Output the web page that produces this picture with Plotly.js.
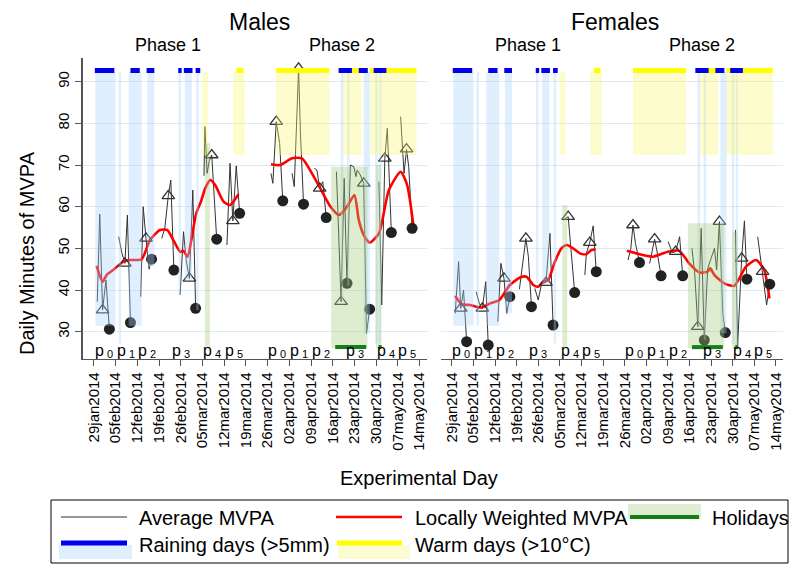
<!DOCTYPE html>
<html>
<head>
<meta charset="utf-8">
<script src="https://cdn.plot.ly/plotly-3.0.1.min.js"></script>
<style>html,body{margin:0;padding:0;background:#fff;}#chart{width:800px;height:578px;}</style>
</head>
<body>
<div id="chart"></div>
<script>
// ---------- DATA (experimental day = days since 29 Jan 2014) ----------
const tickDays = [0,7,14,21,28,35,42,49,56,63,70,77,84,91,98,105];
const tickLabels = ['29jan2014','05feb2014','12feb2014','19feb2014','26feb2014','05mar2014','12mar2014','19mar2014','26mar2014','02apr2014','09apr2014','16apr2014','23apr2014','30apr2014','07may2014','14may2014'];
const yTicks = [30,40,50,60,70,80,90];

// Periods (label "p" with subscript index)
const periodDays = [2.8, 9.9, 16.9, 27.7, 37.9, 44.8, 58.7, 65.9, 72.8, 84.0, 93.7, 100.6];
const periodIndex = ['0','1','2','3','4','5','0','1','2','3','4','5'];

// Raining days (>5mm)
const rainStart = [0.5, 8.0, 11.2, 17.2, 27.3, 29.3, 33.0, 79.6, 81.6, 87.0, 90.7, 92.0];
const rainEnd   = [7.0, 8.8, 15.4, 19.5, 28.1, 31.6, 33.8, 80.4, 82.4, 89.0, 91.5, 92.7];
const rainLowMales   = [31.4, 27.2, 31.4, 45.6, 38.8, 42.4, 35.2, 37.6, 41.0, 29.6, 27.2, 27.2];
const rainLowFemales = [31.4, 31.4, 31.4, 34.4, 41.6, 41.6, 27.2, 31.2, 28.0, 29.6, 27.0, 26.6];
const rainBarStart = [0.3, 11.8, 17.0, 27.2, 29.0, 32.8, 78.9, 85.4, 90.2];
const rainBarEnd   = [6.6, 14.8, 19.5, 28.3, 31.8, 34.3, 83.2, 88.3, 94.3];

// Warm days (>10°C)
const warmStart = [35.0, 44.9, 58.7, 80.4, 89.0];
const warmEnd   = [36.8, 48.6, 75.9, 86.3, 104.0];
const warmBarStart = [46.0, 58.7, 80.4, 89.0];
const warmBarEnd   = [48.2, 75.9, 86.3, 104.0];

// Holidays
const holStart = [35.8, 76.5, 90.9];
const holEnd   = [37.4, 88.2, 92.6];
const holHighMales   = [75.2, 69.6, 70.0];
const holHighFemales = [60.4, 56.0, 54.0];
const holBarStart = [77.8, 91.8];
const holBarEnd   = [87.8, 92.8];

// Males: average MVPA (null = gap between periods)
const maleDays = [1.1,1.9,2.8,3.9,5.0,null, 8.0,9.0,10.0,10.8,11.8,null, 15.1,15.9,16.8,17.8,18.6,null,
  21.9,22.9,24.0,24.8,25.8,null, 27.8,28.9,29.8,30.8,31.9,32.8,null, 35.5,35.8,36.5,37.2,38.0,39.6,null,
  42.9,43.9,44.8,45.9,47.0,null, 57.1,57.7,58.8,59.9,60.9,null, 63.9,64.6,66.0,66.6,67.6,null,
  71.1,71.9,72.8,73.8,74.9,null, 78.2,79.7,80.7,81.6,82.7,83.8,84.5,84.9,85.9,87.0,87.9,88.9,null,
  91.9,92.8,93.8,94.6,95.9,null, 98.9,100.0,100.8,101.5,102.6];
const maleMVPA = [37.2,58.2,35.2,42.4,30.6,null, 52.8,49.0,46.4,58.0,32.2,null, 38.4,60.0,52.4,45.0,47.4,null,
  52.4,55.0,62.6,66.4,44.8,null, 38.8,54.0,47.0,42.8,64.0,35.6,null, 67.4,79.2,68.0,71.0,72.4,52.2,null,
  50.8,70.4,56.6,69.8,58.4,null, 68.0,65.6,80.4,75.2,61.4,null, 68.0,64.8,93.2,77.6,60.6,null,
  69.2,68.8,64.4,66.0,57.4,null, 68.4,37.2,66.8,41.6,70.0,69.6,67.2,68.8,67.6,65.6,29.6,35.4,null,
  66.0,36.4,71.6,78.8,53.8,null, 81.6,68.0,73.8,69.6,54.8];
const maleTriDays = [2.8,10.0,16.8,24.0,30.8,38.0,44.8,58.8,66.0,72.8,79.7,87.0,93.8,100.8];
const maleTriMVPA = [35.2,46.4,52.4,62.6,42.8,72.4,56.6,80.4,93.2,64.4,37.2,65.6,71.6,73.8];
const maleDotDays = [5.0,11.8,18.6,25.8,32.8,39.6,47.0,60.9,67.6,74.9,81.6,88.9,95.9,102.6];
const maleDotMVPA = [30.6,32.2,47.4,44.8,35.6,52.2,58.4,61.4,60.6,57.4,41.6,35.4,53.8,54.8];
const maleLoessDays = [0.9,2.8,4.1,6.2,9.5,11.6,15.4,18.1,21.3,23.7,25.6,27.8,28.9,30.2,31.6,33.0,34.5,35.9,37.5,39.1,41.8,43.9,46.6,null,
  57.1,60.1,63.9,67.1,70.3,73.0,76.3,79.0,81.6,84.0,85.4,87.0,88.9,91.9,95.1,98.9,101.0,103.2];
const maleLoess = [45.8,42.0,43.6,44.8,46.8,47.2,47.4,52.0,54.4,54.4,52.0,49.2,49.4,48.0,52.8,58.4,61.2,64.4,66.4,65.2,61.2,60.4,63.0,null,
  70.2,70.0,71.6,71.6,68.0,64.4,60.0,58.0,60.0,62.8,56.8,53.2,51.4,53.6,64.0,68.4,65.2,54.4];

// Females
const femaleDays = [1.1,2.2,2.9,3.8,4.8,null, 7.9,8.9,9.9,11.0,11.8,null, 14.9,15.9,16.9,17.8,18.8,null,
  21.9,22.9,24.0,24.8,25.8,null, 26.9,28.0,29.1,30.5,31.8,32.8,null, 36.2,37.7,39.8,null,
  43.1,43.6,44.7,45.8,46.8,null, 57.1,58.0,58.7,59.5,60.8,null, 64.1,64.9,65.7,66.4,67.8,null,
  70.1,71.4,72.5,73.8,74.8,null, 77.8,78.7,79.7,80.8,81.8,82.9,84.0,85.1,85.8,86.7,87.8,88.6,null,
  91.9,92.6,93.9,94.8,95.6,null, 99.1,100.7,101.2,102.0,103.0];
const femaleMVPA = [34.4,46.8,35.6,40.0,27.6,null, 39.6,36.8,35.6,42.0,26.8,null, 32.4,46.4,42.8,34.4,38.4,null,
  40.2,46.4,52.4,48.0,36.0,null, 40.4,37.6,41.6,41.8,53.6,31.6,null, 56.8,57.6,39.4,null,
  43.6,48.8,51.4,55.4,44.4,null, 47.2,50.0,55.6,51.2,46.6,null, 46.4,49.6,52.2,49.6,43.4,null,
  51.6,49.0,49.2,52.8,43.4,null, 50.0,44.0,31.2,54.8,28.0,45.2,47.6,50.0,44.8,56.4,34.4,29.8,null,
  54.4,26.6,47.6,56.6,42.6,null, 52.8,44.4,41.6,36.4,41.4];
const femaleTriDays = [2.9,9.9,16.9,24.0,30.5,37.7,44.7,58.7,65.7,72.5,79.7,86.7,93.9,100.7];
const femaleTriMVPA = [35.6,35.6,42.8,52.4,41.8,57.6,51.4,55.6,52.2,49.2,31.2,56.4,47.6,44.4];
const femaleDotDays = [4.8,11.8,18.8,25.8,32.8,39.8,46.8,60.8,67.8,74.8,81.8,88.6,95.6,103.0];
const femaleDotMVPA = [27.6,26.8,38.4,36.0,31.6,39.4,44.4,46.6,43.4,43.4,28.0,29.8,42.6,41.4];
const femaleLoessDays = [1.1,3.2,5.9,9.7,12.4,15.4,18.8,22.1,24.2,26.4,28.0,29.6,31.2,33.4,35.5,37.2,39.3,41.5,43.6,45.2,46.6,null,
  56.7,59.8,65.1,70.0,73.7,76.9,80.2,82.9,83.7,85.1,88.3,91.5,95.3,98.6,101.2,102.9];
const femaleLoess = [38.6,36.6,36.4,35.8,36.8,37.6,41.2,43.0,43.2,41.2,40.8,42.0,42.4,46.8,50.0,50.8,50.0,48.8,48.6,49.6,49.8,null,
  49.4,48.8,48.0,49.2,49.4,46.4,44.2,44.4,45.2,43.6,41.6,41.0,45.6,47.2,44.8,38.0];

// ---------- STYLE CONSTANTS ----------
const BAND_TOP = 92.4, WARM_LOW = 72.4, HOL_LOW = 26.0, TOPBAR_Y = 92.7, HOLBAR_Y = 26.3, LABEL_Y = 25.6;
const FONT = 'Liberation Sans, Arial, Helvetica, sans-serif';
const BLUE_FILL = 'rgba(165,210,248,0.35)', YEL_FILL = 'rgba(246,246,112,0.35)', GRN_FILL = 'rgba(161,201,121,0.35)';

const BASE = Date.UTC(2014,0,29);
function toDate(d){
  if (d === null || d === undefined) return null;
  return new Date(BASE + d*86400000).toISOString().replace('T',' ').replace('Z','');
}
function rects(starts, ends, lows, highs){
  const x=[], y=[];
  starts.forEach((s,i)=>{
    const e = ends[i];
    const lo = Array.isArray(lows) ? lows[i] : lows;
    const hi = Array.isArray(highs) ? highs[i] : highs;
    x.push(s,e,e,s,s,null); y.push(lo,lo,hi,hi,lo,null);
  });
  return {x:x.map(toDate), y:y};
}
function hbars(starts, ends, level){
  const x=[], y=[];
  starts.forEach((s,i)=>{ x.push(s, ends[i], null); y.push(level, level, null); });
  return {x:x.map(toDate), y:y};
}

function panel(xa, ya, days, vals, triD, triV, dotD, dotV, loD, loV, rainLow, holHigh){
  const tr = [];
  tr.push({type:'scatter', mode:'lines', x:days.map(toDate), y:vals, xaxis:xa, yaxis:ya,
    line:{color:'#333', width:1}, connectgaps:false, hoverinfo:'skip'});
  tr.push({type:'scatter', mode:'lines', x:loD.map(toDate), y:loV, xaxis:xa, yaxis:ya,
    line:{color:'rgb(255,0,0)', width:2.6, shape:'spline', smoothing:0.6}, connectgaps:false, hoverinfo:'skip'});
  tr.push({type:'scatter', mode:'markers', x:triD.map(toDate), y:triV, xaxis:xa, yaxis:ya,
    marker:{symbol:'triangle-up-open', size:11, color:'#333', line:{width:1.3}}, hoverinfo:'skip'});
  tr.push({type:'scatter', mode:'markers', x:dotD.map(toDate), y:dotV, xaxis:xa, yaxis:ya,
    marker:{symbol:'circle', size:11, color:'#222'}, hoverinfo:'skip'});
  const rb = rects(rainStart, rainEnd, rainLow, BAND_TOP);
  tr.push({type:'scatter', mode:'none', fill:'toself', fillcolor:BLUE_FILL, x:rb.x, y:rb.y, xaxis:xa, yaxis:ya, hoverinfo:'skip'});
  const wb = rects(warmStart, warmEnd, WARM_LOW, BAND_TOP);
  tr.push({type:'scatter', mode:'none', fill:'toself', fillcolor:YEL_FILL, x:wb.x, y:wb.y, xaxis:xa, yaxis:ya, hoverinfo:'skip'});
  const hb = rects(holStart, holEnd, HOL_LOW, holHigh);
  tr.push({type:'scatter', mode:'none', fill:'toself', fillcolor:GRN_FILL, x:hb.x, y:hb.y, xaxis:xa, yaxis:ya, hoverinfo:'skip'});
  const wt = hbars(warmBarStart, warmBarEnd, TOPBAR_Y);
  tr.push({type:'scatter', mode:'lines', x:wt.x, y:wt.y, xaxis:xa, yaxis:ya, line:{color:'rgb(255,255,0)', width:5}, hoverinfo:'skip'});
  const rt = hbars(rainBarStart, rainBarEnd, TOPBAR_Y);
  tr.push({type:'scatter', mode:'lines', x:rt.x, y:rt.y, xaxis:xa, yaxis:ya, line:{color:'rgb(0,0,235)', width:5}, hoverinfo:'skip'});
  const ht = hbars(holBarStart, holBarEnd, HOLBAR_Y);
  tr.push({type:'scatter', mode:'lines', x:ht.x, y:ht.y, xaxis:xa, yaxis:ya, line:{color:'rgb(20,128,20)', width:4}, hoverinfo:'skip'});
  return tr;
}

const data = [].concat(
  panel('x','y', maleDays, maleMVPA, maleTriDays, maleTriMVPA, maleDotDays, maleDotMVPA, maleLoessDays, maleLoess, rainLowMales, holHighMales),
  panel('x2','y2', femaleDays, femaleMVPA, femaleTriDays, femaleTriMVPA, femaleDotDays, femaleDotMVPA, femaleLoessDays, femaleLoess, rainLowFemales, holHighFemales)
);

const AX = '#555';
const xRange = [toDate(-3.6), toDate(107.3)];
function xaxis(domain, anchor){
  return {domain:domain, anchor:anchor, type:'date', range:xRange, tickvals:tickDays.map(toDate), ticktext:tickLabels,
    tickangle:-90, tickfont:{family:FONT, size:15, color:'#000'}, ticks:'outside', ticklen:6, tickcolor:AX, tickwidth:1,
    showline:true, linecolor:AX, linewidth:1.3, showgrid:false, zeroline:false, fixedrange:true};
}
const yDomain = [1-359/578, 1-58/578];
const yRange = [23.45, 95.68];
const GRID = 'rgb(222,234,240)';

const annotations = [
  {text:'Males', x:259/800, y:1-22/578, size:23},
  {text:'Females', x:615/800, y:1-22/578, size:23},
  {text:'Phase 1', x:168/800, y:1-45/578, size:18},
  {text:'Phase 2', x:342/800, y:1-45/578, size:18},
  {text:'Phase 1', x:528/800, y:1-45/578, size:18},
  {text:'Phase 2', x:702/800, y:1-45/578, size:18},
  {text:'Experimental Day', x:419/800, y:1-478/578, size:20},
  {text:'Daily Minutes of MVPA', x:27/800, y:1-253/578, size:20, angle:-90},
  {text:'Average MVPA', x:137/800, y:1-518/578, size:20, left:true},
  {text:'Locally Weighted MVPA', x:413/800, y:1-518/578, size:20, left:true},
  {text:'Holidays', x:710/800, y:1-518/578, size:20, left:true},
  {text:'Raining days (>5mm)', x:137/800, y:1-545/578, size:20, left:true},
  {text:'Warm days (>10°C)', x:413/800, y:1-545/578, size:20, left:true}
].map(a=>({text:a.text, xref:'paper', yref:'paper', x:a.x, y:a.y, showarrow:false,
  xanchor:a.left?'left':'center', yanchor:'middle', textangle:a.angle||0,
  font:{family:FONT, size:a.size, color:'#000'}}));

// Period labels placed through each panel's axes: "p" plus a smaller, lowered index
[['x','y'],['x2','y2']].forEach(([xr,yr])=>{
  periodDays.forEach((d,i)=>{
    annotations.push({text:'p', xref:xr, yref:yr, x:toDate(d), y:LABEL_Y, showarrow:false,
      xanchor:'right', yanchor:'middle', xshift:2, borderpad:0, font:{family:FONT, size:16, color:'#000'}});
    annotations.push({text:periodIndex[i], xref:xr, yref:yr, x:toDate(d), y:LABEL_Y, showarrow:false,
      xanchor:'left', yanchor:'middle', xshift:3, yshift:-4, borderpad:0, font:{family:FONT, size:11, color:'#000'}});
  });
});

function px(X){return X/800;} function py(Y){return 1-Y/578;}
const shapes = [
  {type:'rect', xref:'paper', yref:'paper', x0:px(51), x1:px(788), y0:py(563), y1:py(500), line:{color:'#000', width:1}, fillcolor:'rgba(0,0,0,0)'},
  {type:'line', xref:'paper', yref:'paper', x0:px(61), x1:px(127), y0:py(517), y1:py(517), line:{color:'#333', width:1}},
  {type:'line', xref:'paper', yref:'paper', x0:px(336), x1:px(402), y0:py(517), y1:py(517), line:{color:'rgb(255,0,0)', width:2.6}},
  {type:'rect', xref:'paper', yref:'paper', x0:px(628), x1:px(701), y0:py(519), y1:py(504), line:{width:0}, fillcolor:'rgb(224,237,211)'},
  {type:'line', xref:'paper', yref:'paper', x0:px(630), x1:px(699), y0:py(517), y1:py(517), line:{color:'rgb(20,128,20)', width:4}},
  {type:'rect', xref:'paper', yref:'paper', x0:px(59), x1:px(132), y0:py(559), y1:py(545), line:{width:0}, fillcolor:'rgb(224,239,252)'},
  {type:'line', xref:'paper', yref:'paper', x0:px(61), x1:px(127), y0:py(543), y1:py(543), line:{color:'rgb(0,0,235)', width:5}},
  {type:'rect', xref:'paper', yref:'paper', x0:px(338), x1:px(410), y0:py(559), y1:py(545), line:{width:0}, fillcolor:'rgb(252,252,210)'},
  {type:'line', xref:'paper', yref:'paper', x0:px(337), x1:px(402), y0:py(543), y1:py(543), line:{color:'rgb(255,255,0)', width:5}}
];

const layout = {
  width:800, height:578, margin:{l:0,r:0,t:0,b:0}, paper_bgcolor:'#fff', plot_bgcolor:'#fff',
  showlegend:false, font:{family:FONT, color:'#000'},
  xaxis: xaxis([82.7/800, 426.7/800], 'y'),
  xaxis2: xaxis([440.7/800, 783/800], 'y2'),
  yaxis: {domain:yDomain, anchor:'x', range:yRange, tickvals:yTicks, tickangle:-90,
    tickfont:{family:FONT, size:15, color:'#000'}, ticks:'outside', ticklen:6, tickcolor:AX,
    showline:true, linecolor:AX, linewidth:1.3, showgrid:true, gridcolor:GRID, gridwidth:1, zeroline:false, fixedrange:true},
  yaxis2: {domain:yDomain, anchor:'x2', range:yRange, tickvals:yTicks, showticklabels:false, ticks:'',
    showline:false, showgrid:true, gridcolor:GRID, gridwidth:1, zeroline:false, fixedrange:true},
  annotations: annotations,
  shapes: shapes
};

Plotly.newPlot('chart', data, layout, {staticPlot:true, displayModeBar:false});
</script>
</body>
</html>
